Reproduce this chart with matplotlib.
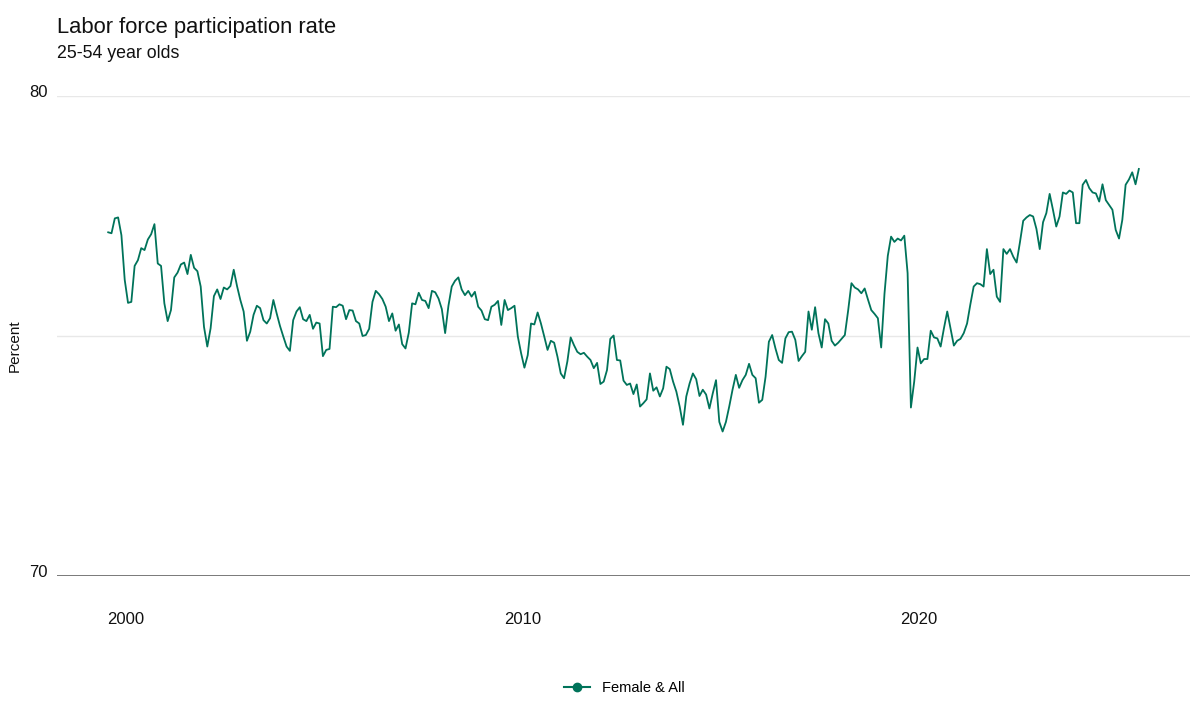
import numpy as np
import matplotlib
matplotlib.use("Agg")
import matplotlib.pyplot as plt
import matplotlib.transforms as mtransforms

plt.rcParams['font.family'] = ['Liberation Sans', 'DejaVu Sans']

# Taux d'activité mensuel, femmes 25-54 ans, à partir de janv. 2000
start_year = 2000
rate = [
    77.16, 77.14, 77.45, 77.47, 77.10, 76.17, 75.69, 75.71, 76.46, 76.58,
    76.83, 76.79, 77.01, 77.12, 77.33, 76.51, 76.46, 75.68, 75.31, 75.54,
    76.22, 76.32, 76.49, 76.53, 76.29, 76.69, 76.42, 76.35, 76.03, 75.19,
    74.78, 75.16, 75.83, 75.97, 75.77, 76.01, 75.97, 76.04, 76.38, 76.04,
    75.75, 75.51, 74.90, 75.09, 75.44, 75.63, 75.58, 75.33, 75.26, 75.37,
    75.75, 75.47, 75.21, 74.99, 74.78, 74.69, 75.33, 75.51, 75.60, 75.35,
    75.31, 75.44, 75.15, 75.28, 75.26, 74.58, 74.71, 74.73, 75.61, 75.60,
    75.66, 75.63, 75.35, 75.54, 75.53, 75.31, 75.26, 75.00, 75.02, 75.15,
    75.71, 75.94, 75.87, 75.77, 75.61, 75.31, 75.47, 75.11, 75.24, 74.83,
    74.74, 75.07, 75.68, 75.66, 75.90, 75.75, 75.73, 75.58, 75.94, 75.91,
    75.78, 75.56, 75.06, 75.63, 76.03, 76.15, 76.22, 75.97, 75.85, 75.94,
    75.82, 75.92, 75.61, 75.53, 75.35, 75.33, 75.61, 75.65, 75.73, 75.23,
    75.75,
    75.54, 75.58, 75.63, 74.99, 74.64, 74.34, 74.60, 75.26, 75.24, 75.49,
    75.26, 74.99, 74.71, 74.90, 74.86, 74.57, 74.22, 74.12, 74.47, 74.97,
    74.81, 74.67, 74.62, 74.65, 74.57, 74.50, 74.33, 74.44, 74.00, 74.05,
    74.29, 74.94, 75.01, 74.50, 74.49, 74.07, 73.98, 74.01, 73.79, 73.99,
    73.53, 73.60, 73.68, 74.22, 73.86, 73.93, 73.74, 73.91, 74.36, 74.31,
    74.05, 73.84, 73.53, 73.15, 73.74, 74.01, 74.22, 74.10, 73.75, 73.88,
    73.78, 73.49, 73.80, 74.08, 73.21, 73.01, 73.21, 73.53, 73.88, 74.19,
    73.92, 74.08, 74.19, 74.42, 74.19, 74.12, 73.61, 73.67, 74.15, 74.88,
    75.02, 74.74, 74.50, 74.44, 74.95, 75.08, 75.09, 74.92, 74.48, 74.58,
    74.67, 75.51, 75.13, 75.60, 75.06, 74.76, 75.35, 75.26, 74.90, 74.80,
    74.86, 74.94, 75.02, 75.53, 76.10, 76.01, 75.97, 75.89, 75.99, 75.76,
    75.54, 75.46, 75.37, 74.76, 75.88, 76.67, 77.07, 76.96, 77.03, 76.99,
    77.09, 76.31,
    73.51, 74.05, 74.76, 74.43, 74.52, 74.52, 75.11, 74.97, 74.95, 74.78,
    75.16, 75.51, 75.16, 74.80, 74.90, 74.94, 75.06, 75.26, 75.66, 76.03,
    76.10, 76.08, 76.03, 76.81, 76.29, 76.38, 75.82, 75.71, 76.81, 76.71,
    76.81, 76.65, 76.53, 76.95, 77.40, 77.47, 77.52, 77.49, 77.23, 76.81,
    77.37, 77.56, 77.96, 77.63, 77.28, 77.49, 77.99, 77.96, 78.03, 77.99,
    77.35, 77.35, 78.15, 78.25, 78.08, 77.99, 77.97, 77.80, 78.16, 77.83,
    77.73, 77.63, 77.21, 77.03,
    77.42, 78.15, 78.26, 78.41, 78.16, 78.48,
]
year_labels = ["2000", "2010", "2020"]
y_labels = ["70", "", "80"]

months = start_year + np.arange(len(rate)) / 12.0
green = "#00735a"

fig = plt.figure(figsize=(12, 7.2), dpi=100)
ax = fig.add_axes([0.0475, 0.2, 0.9442, 0.6667])

ax.plot(months, rate, color=green, lw=1.3, label="Female & All")

ax.set_xlim(start_year - 15.5 / 12, start_year + 327.5 / 12)
ax.set_ylim(70, 80)

# grille horizontale
for v in [75, 80]:
    ax.axhline(v, color="#e8e8e8", lw=1, zorder=0)
ax.axhline(70, color="#555555", lw=1.1, zorder=3)

for side in ["top", "right", "left", "bottom"]:
    ax.spines[side].set_visible(False)

ax.set_xticks([int(y) + 0.45 for y in year_labels])
ax.set_xticklabels(year_labels)
ax.set_yticks([70, 75, 80])
ax.set_yticklabels(y_labels)
ax.tick_params(axis="x", length=0, pad=26, labelsize=12, colors="#111111")
ax.tick_params(axis="y", length=0, pad=7, labelsize=12, colors="#111111")

offset = mtransforms.ScaledTranslation(0, 5 / 100, fig.dpi_scale_trans)
for lab in ax.get_yticklabels():
    lab.set_transform(lab.get_transform() + offset)

fig.text(57 / 1200, 1 - 27 / 720, "Labor force participation rate",
         fontsize=15.8, va="center", ha="left", color="#111111")
fig.text(57 / 1200, 1 - 53 / 720, "25-54 year olds",
         fontsize=12.8, va="center", ha="left", color="#111111")
fig.text(15 / 1200, 1 - 346 / 720, "Percent", rotation=90,
         fontsize=11, va="center", ha="center", color="#111111")

fig.legend(handles=[plt.Line2D([0], [0], color=green, lw=1.5, marker="o",
                               markersize=6)],
           labels=["Female & All"], loc="center",
           bbox_to_anchor=(0.52, 1 - 688 / 720), frameon=False,
           fontsize=10.5, handlelength=1.8)

fig.savefig("out.png", dpi=100)
